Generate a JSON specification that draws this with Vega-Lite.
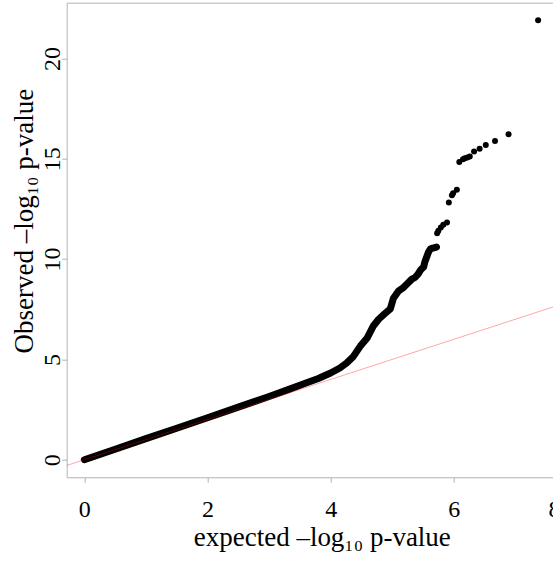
{
  "$schema": "https://vega.github.io/schema/vega-lite/v6.json",
  "width": 510.2,
  "height": 474.6,
  "autosize": {"type": "none"},
  "padding": {"left": 66.7, "top": 2.7, "right": 0, "bottom": 86},
  "background": "white",
  "config": {
    "view": {"stroke": "#b3b3b3", "strokeWidth": 1},
    "axis": {
      "domain": false,
      "grid": false,
      "tickColor": "#b3b3b3",
      "tickSize": 5,
      "labelFont": "Liberation Serif",
      "labelFontSize": 24,
      "labelColor": "black",
      "titleFont": "Liberation Serif",
      "titleFontSize": 27,
      "titleFontWeight": "normal",
      "titleColor": "black"
    }
  },
  "datasets": {
    "curve": [
      {"expected": 0, "observed": 0},
      {"expected": 0.5, "observed": 0.52},
      {"expected": 1.0, "observed": 1.05},
      {"expected": 1.5, "observed": 1.57},
      {"expected": 2.0, "observed": 2.09},
      {"expected": 2.5, "observed": 2.62},
      {"expected": 3.0, "observed": 3.15},
      {"expected": 3.3, "observed": 3.48},
      {"expected": 3.6, "observed": 3.82},
      {"expected": 3.8, "observed": 4.05},
      {"expected": 4.0, "observed": 4.32},
      {"expected": 4.15, "observed": 4.57},
      {"expected": 4.26, "observed": 4.82},
      {"expected": 4.37, "observed": 5.15},
      {"expected": 4.48, "observed": 5.65},
      {"expected": 4.59, "observed": 6.05},
      {"expected": 4.69, "observed": 6.65},
      {"expected": 4.78, "observed": 7.0},
      {"expected": 4.88, "observed": 7.28},
      {"expected": 4.97, "observed": 7.52},
      {"expected": 5.02, "observed": 8.05},
      {"expected": 5.10, "observed": 8.40},
      {"expected": 5.17, "observed": 8.55},
      {"expected": 5.24, "observed": 8.76},
      {"expected": 5.32, "observed": 9.0},
      {"expected": 5.37, "observed": 9.08},
      {"expected": 5.42, "observed": 9.25},
      {"expected": 5.46, "observed": 9.45},
      {"expected": 5.51, "observed": 9.6},
      {"expected": 5.53, "observed": 9.85},
      {"expected": 5.56, "observed": 10.1},
      {"expected": 5.59, "observed": 10.35},
      {"expected": 5.62, "observed": 10.5},
      {"expected": 5.66, "observed": 10.55},
      {"expected": 5.72, "observed": 10.6}
    ],
    "tail": [
      {"expected": 5.73, "observed": 11.29},
      {"expected": 5.75, "observed": 11.41},
      {"expected": 5.79, "observed": 11.57},
      {"expected": 5.83, "observed": 11.71},
      {"expected": 5.89, "observed": 11.82},
      {"expected": 5.92, "observed": 12.82},
      {"expected": 5.97, "observed": 13.18},
      {"expected": 5.99, "observed": 13.28},
      {"expected": 6.05, "observed": 13.45},
      {"expected": 6.09, "observed": 14.84},
      {"expected": 6.15, "observed": 14.98},
      {"expected": 6.18, "observed": 15.03},
      {"expected": 6.22, "observed": 15.06},
      {"expected": 6.26, "observed": 15.11},
      {"expected": 6.33, "observed": 15.36},
      {"expected": 6.42, "observed": 15.50},
      {"expected": 6.52, "observed": 15.68},
      {"expected": 6.67, "observed": 15.88},
      {"expected": 6.89, "observed": 16.22},
      {"expected": 7.37, "observed": 21.9}
    ],
    "diag": [
      {"expected": -0.287, "observed": -0.287},
      {"expected": 8, "observed": 8}
    ]
  },
  "encoding": {
    "x": {
      "field": "expected",
      "type": "quantitative",
      "scale": {"domain": [-0.287, 8], "nice": false, "zero": false},
      "axis": {
        "title": "expected –log₁₀ p-value",
        "values": [0, 2, 4, 6, 8],
        "labelFont": "Liberation Serif",
        "labelBaseline": "alphabetic",
        "labelPadding": 34,
        "labelFlush": true,
        "labelFlushOffset": -17,
        "titleBaseline": "alphabetic",
        "titleY": 68
      }
    },
    "y": {
      "field": "observed",
      "type": "quantitative",
      "scale": {"domain": [-0.876, 22.776], "nice": false, "zero": false},
      "axis": {
        "title": "Observed –log₁₀ p-value",
        "values": [0, 5, 10, 15, 20],
        "labelFont": "Liberation Serif",
        "labelAngle": -90,
        "labelAlign": "center",
        "labelBaseline": "alphabetic",
        "labelPadding": 2,
        "labelFlush": false,
        "titleAngle": -90,
        "titleBaseline": "alphabetic",
        "titleAlign": "center",
        "titleX": -34,
        "titleY": 218
      }
    }
  },
  "layer": [
    {
      "data": {"name": "curve"},
      "mark": {"type": "line", "color": "black", "strokeWidth": 7, "strokeCap": "round", "strokeJoin": "round"}
    },
    {
      "data": {"name": "tail"},
      "mark": {"type": "circle", "color": "black", "opacity": 1, "size": 36}
    },
    {
      "data": {"name": "diag"},
      "mark": {"type": "line", "color": "red", "opacity": 0.35, "strokeWidth": 1, "clip": true}
    }
  ]
}
